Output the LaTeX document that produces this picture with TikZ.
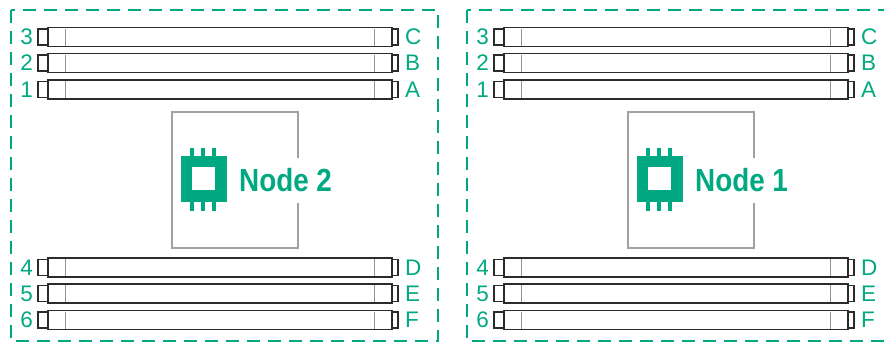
\documentclass[tikz,border=0pt]{standalone}
\usepackage{fontspec}
\setmainfont{Liberation Sans}
\definecolor{hpegreen}{HTML}{01A982}
\definecolor{dimmcol}{HTML}{2B2B2B}
\definecolor{cpugray}{HTML}{A0A0A0}
\begin{document}
\begin{tikzpicture}[x=1pt,y=-1pt,
  dimmline/.style={draw=dimmcol, line width=1.6pt},
  innerline/.style={draw=gray!85, line width=1pt},
  panelbox/.style={draw=hpegreen, line width=1.8pt, dash pattern=on 13pt off 8pt},
  slotlbl/.style={text=hpegreen, font=\fontsize{22.5}{22.5}\selectfont, inner sep=0pt},
  cpubox/.style={draw=cpugray, line width=1.1pt},
  nodelbl/.style={text=hpegreen, font=\bfseries\fontsize{32}{32}\selectfont, inner sep=0pt, xscale=0.87, anchor=west}]
\useasboundingbox (0,0) rectangle (884,343);
\clip (0,0) rectangle (884,343);
\fill[white] (0,0) rectangle (884,343);
\foreach \dx/\nm in {0/2, 456/1}{
\begin{scope}[xshift=\dx pt]
  \draw[panelbox] (11,10) rectangle (438,341);
  \foreach \c/\n/\l in {37/3/C, 63/2/B, 89.5/1/A, 267.5/4/D, 293.5/5/E, 320/6/F}{
    \draw[dimmline] (48,\c-9.5) rectangle (392,\c+9.5);
    \draw[dimmline] (48,\c-8) -- (38,\c-8) -- (38,\c+8) -- (48,\c+8);
    \draw[dimmline] (392,\c-8) -- (398,\c-8) -- (398,\c+8) -- (392,\c+8);
    \draw[innerline] (65,\c-8.5) -- (65,\c+8.5);
    \draw[innerline] (374,\c-8.5) -- (374,\c+8.5);
    \node[slotlbl, anchor=east] (num-\nm-\n) at (33,\c) {\n};
    \node[slotlbl, anchor=west] (let-\nm-\l) at (405,\c) {\l};
  }
  \draw[cpubox] (298,158) -- (298,112) -- (172,112) -- (172,248) -- (298,248) -- (298,203);
  \fill[hpegreen] (181,156) rectangle (227,202);
  \fill[white] (192,167) rectangle (215,190);
  \foreach \px in {192,203,214}{
    \fill[hpegreen] (\px-1.6,148) rectangle (\px+1.6,156);
    \fill[hpegreen] (\px-1.6,202) rectangle (\px+1.6,211);
  }
  \node[nodelbl] (cpu-\nm) at (239,180) {Node \nm};
\end{scope}
}
\end{tikzpicture}
\end{document}
